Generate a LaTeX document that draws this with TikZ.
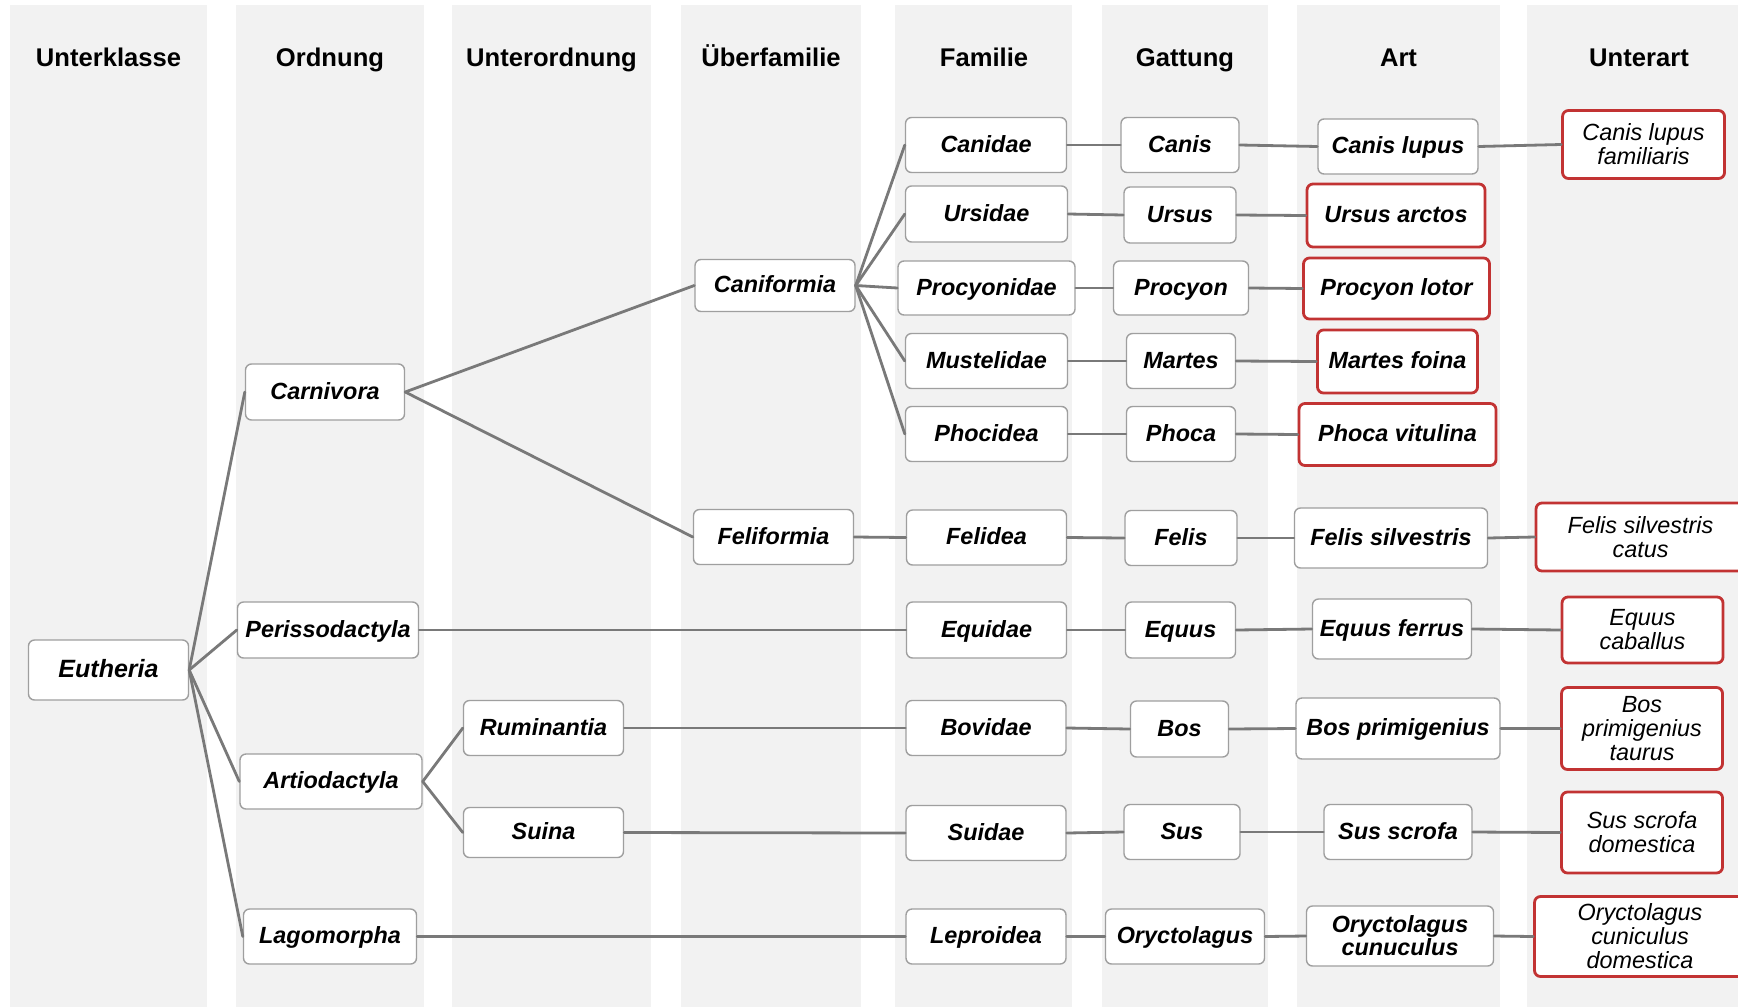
\documentclass[tikz,border=0pt]{standalone}
\usepackage{fontspec}
\setmainfont{Liberation Sans}
\usepackage{xcolor}

\begin{document}
\begin{tikzpicture}[x=0.5pt,y=-0.5pt,line cap=round,
  lane/.style={fill=gray!10},
  header/.style={font=\fontsize{12.8}{15}\selectfont\bfseries,anchor=base},
  taxon/.style={draw=gray!75,fill=white,rounded corners=3pt,line width=0.7pt,
    font=\fontsize{11.7}{11.5}\selectfont\bfseries\itshape,align=center,inner sep=1pt,
    minimum height=27.5pt,text height=0.85em,text depth=0.12em},
  multiline/.style={text height={},text depth={}},
  redtaxon/.style={taxon,draw=red!70!black!80,line width=1.4pt},
  subtaxon/.style={redtaxon,multiline,font=\fontsize{11.7}{12}\selectfont\itshape},
  link/.style={gray!95!black,line width=1.4pt}]
\useasboundingbox (0,0) rectangle (1738,1007);
\fill[white] (0,0) rectangle (1738,1007);
\fill[lane] (10,5) rectangle (207,1007);
\fill[lane] (236,5) rectangle (424,1007);
\fill[lane] (452,5) rectangle (651,1007);
\fill[lane] (681,5) rectangle (861,1007);
\fill[lane] (895,5) rectangle (1072,1007);
\fill[lane] (1102,5) rectangle (1268,1007);
\fill[lane] (1297,5) rectangle (1500,1007);
\fill[lane] (1527,5) rectangle (1738,1007);

\node[header] (hUnterklasse) at (108.5,66) {Unterklasse};
\node[header] (hOrdnung) at (330,66) {Ordnung};
\node[header] (hUnterordnung) at (551.5,66) {Unterordnung};
\node[header] (hUeberfamilie) at (771,66) {Überfamilie};
\node[header] (hFamilie) at (984,66) {Familie};
\node[header] (hGattung) at (1185,66) {Gattung};
\node[header] (hArt) at (1398.5,66) {Art};
\node[header] (hUnterart) at (1639,66) {Unterart};

\node[taxon,minimum width=80pt,minimum height=30pt,font=\fontsize{12.5}{13}\selectfont\bfseries\itshape] (eutheria) at (108.5,670) {Eutheria};
\node[taxon,minimum width=79.5pt,minimum height=28pt] (carnivora) at (325,392) {Carnivora};
\node[taxon,minimum width=90.5pt,minimum height=28pt] (perisso) at (328,630) {Perissodactyla};
\node[taxon,minimum width=91pt] (artio) at (331,781.5) {Artiodactyla};
\node[taxon,minimum width=86.5pt] (lago) at (330,936.5) {Lagomorpha};

\node[taxon,minimum width=80pt] (rumin) at (543.5,728) {Ruminantia};
\node[taxon,minimum width=80pt,minimum height=25pt] (suina) at (543.5,832.5) {Suina};

\node[taxon,minimum width=80pt,minimum height=26pt] (canif) at (775,285.5) {Caniformia};
\node[taxon,minimum width=80pt] (felif) at (773.5,537) {Feliformia};

\node[taxon,minimum width=80.5pt] (canidae) at (986,145) {Canidae};
\node[taxon,minimum width=81pt,minimum height=28pt] (ursidae) at (986.5,214) {Ursidae};
\node[taxon,minimum width=88.5pt,minimum height=27pt] (procyonidae) at (986.5,288) {Procyonidae};
\node[taxon,minimum width=81pt] (mustelidae) at (986.5,361) {Mustelidae};
\node[taxon,minimum width=81pt] (phocidea) at (986.5,434) {Phocidea};
\node[taxon,minimum width=80pt] (felidea) at (986.5,537.5) {Felidea};
\node[taxon,minimum width=80pt,minimum height=28pt] (equidae) at (986.5,630) {Equidae};
\node[taxon,minimum width=80pt] (bovidae) at (986,728) {Bovidae};
\node[taxon,minimum width=80pt] (suidae) at (986,833) {Suidae};
\node[taxon,minimum width=80pt] (leproidea) at (986,936.5) {Leproidea};

\node[taxon,minimum width=59pt] (canis) at (1180,145) {Canis};
\node[taxon,minimum width=56pt,minimum height=28pt] (ursus) at (1180,215) {Ursus};
\node[taxon,minimum width=67.5pt,minimum height=27pt] (procyon) at (1181,288) {Procyon};
\node[taxon,minimum width=54.5pt] (martes) at (1181,361) {Martes};
\node[taxon,minimum width=54.5pt] (phoca) at (1181,434) {Phoca};
\node[taxon,minimum width=56pt] (felis) at (1181,538) {Felis};
\node[taxon,minimum width=55pt,minimum height=28pt] (equus) at (1180.5,630) {Equus};
\node[taxon,minimum width=49pt,minimum height=28pt] (bos) at (1179.5,729) {Bos};
\node[taxon,minimum width=58pt] (sus) at (1182,832) {Sus};
\node[taxon,minimum width=79.5pt] (oryctolagus) at (1185,936.5) {Oryctolagus};

\node[taxon,minimum width=80pt] (canislupus) at (1398,146.5) {Canis lupus};
\node[redtaxon,minimum width=89pt,minimum height=31.5pt] (ursusarctos) at (1396,215.5) {Ursus arctos};
\node[redtaxon,minimum width=93pt,minimum height=30.5pt] (procyonlotor) at (1396.5,288.5) {Procyon lotor};
\node[redtaxon,minimum width=80pt,minimum height=31.5pt] (martesfoina) at (1397.5,361.5) {Martes foina};
\node[redtaxon,minimum width=98.5pt,minimum height=31pt] (phocavitulina) at (1397.5,434.5) {Phoca vitulina};
\node[taxon,minimum width=96.5pt,minimum height=30pt] (felissilv) at (1391,538) {Felis silvestris};
\node[taxon,minimum width=79.5pt,minimum height=30pt] (equusferrus) at (1392,629) {Equus ferrus};
\node[taxon,minimum width=102pt,minimum height=30.5pt] (bosprim) at (1398,728.5) {Bos primigenius};
\node[taxon,minimum width=74pt] (susscrofa) at (1398,832) {Sus scrofa};
\node[taxon,multiline,minimum width=93.5pt,minimum height=30pt] (orycun) at (1400,936) {Oryctolagus\\cunuculus};

\node[subtaxon,minimum width=81pt,minimum height=34pt] (familiaris) at (1643.5,144.5) {Canis lupus\\familiaris};
\node[subtaxon,minimum width=104.5pt,minimum height=34pt] (catus) at (1640.5,537) {Felis silvestris\\catus};
\node[subtaxon,minimum width=80.5pt,minimum height=33pt] (caballus) at (1642.5,630) {Equus\\caballus};
\node[subtaxon,minimum width=80.5pt,minimum height=41pt] (taurus) at (1642,728.5) {Bos\\primigenius\\taurus};
\node[subtaxon,minimum width=80.5pt,minimum height=40.5pt] (sdomestica) at (1642,832.5) {Sus scrofa\\domestica};
\node[subtaxon,minimum width=105.5pt,minimum height=40pt] (odomestica) at (1640,936.5) {Oryctolagus\\cuniculus\\domestica};

\draw[link] (eutheria.east) -- (carnivora.west);
\draw[link] (eutheria.east) -- (perisso.west);
\draw[link] (eutheria.east) -- (artio.west);
\draw[link] (eutheria.east) -- (lago.west);
\draw[link] (carnivora.east) -- (canif.west);
\draw[link] (carnivora.east) -- (felif.west);
\draw[link] (artio.east) -- (rumin.west);
\draw[link] (artio.east) -- (suina.west);
\draw[link] (canif.east) -- (canidae.west);
\draw[link] (canif.east) -- (ursidae.west);
\draw[link] (canif.east) -- (procyonidae.west);
\draw[link] (canif.east) -- (mustelidae.west);
\draw[link] (canif.east) -- (phocidea.west);
\draw[link] (felif.east) -- (felidea.west);
\draw[link] (perisso.east) -- (equidae.west);
\draw[link] (rumin.east) -- (bovidae.west);
\draw[link] (suina.east) -- (suidae.west);
\draw[link] (lago.east) -- (leproidea.west);

\draw[link] (canidae.east) -- (canis.west);
\draw[link] (ursidae.east) -- (ursus.west);
\draw[link] (procyonidae.east) -- (procyon.west);
\draw[link] (mustelidae.east) -- (martes.west);
\draw[link] (phocidea.east) -- (phoca.west);
\draw[link] (felidea.east) -- (felis.west);
\draw[link] (equidae.east) -- (equus.west);
\draw[link] (bovidae.east) -- (bos.west);
\draw[link] (suidae.east) -- (sus.west);
\draw[link] (leproidea.east) -- (oryctolagus.west);

\draw[link] (canis.east) -- (canislupus.west);
\draw[link] (ursus.east) -- (ursusarctos.west);
\draw[link] (procyon.east) -- (procyonlotor.west);
\draw[link] (martes.east) -- (martesfoina.west);
\draw[link] (phoca.east) -- (phocavitulina.west);
\draw[link] (felis.east) -- (felissilv.west);
\draw[link] (equus.east) -- (equusferrus.west);
\draw[link] (bos.east) -- (bosprim.west);
\draw[link] (sus.east) -- (susscrofa.west);
\draw[link] (oryctolagus.east) -- (orycun.west);

\draw[link] (canislupus.east) -- (familiaris.west);
\draw[link] (felissilv.east) -- (catus.west);
\draw[link] (equusferrus.east) -- (caballus.west);
\draw[link] (bosprim.east) -- (taurus.west);
\draw[link] (susscrofa.east) -- (sdomestica.west);
\draw[link] (orycun.east) -- (odomestica.west);
\end{tikzpicture}
\end{document}
